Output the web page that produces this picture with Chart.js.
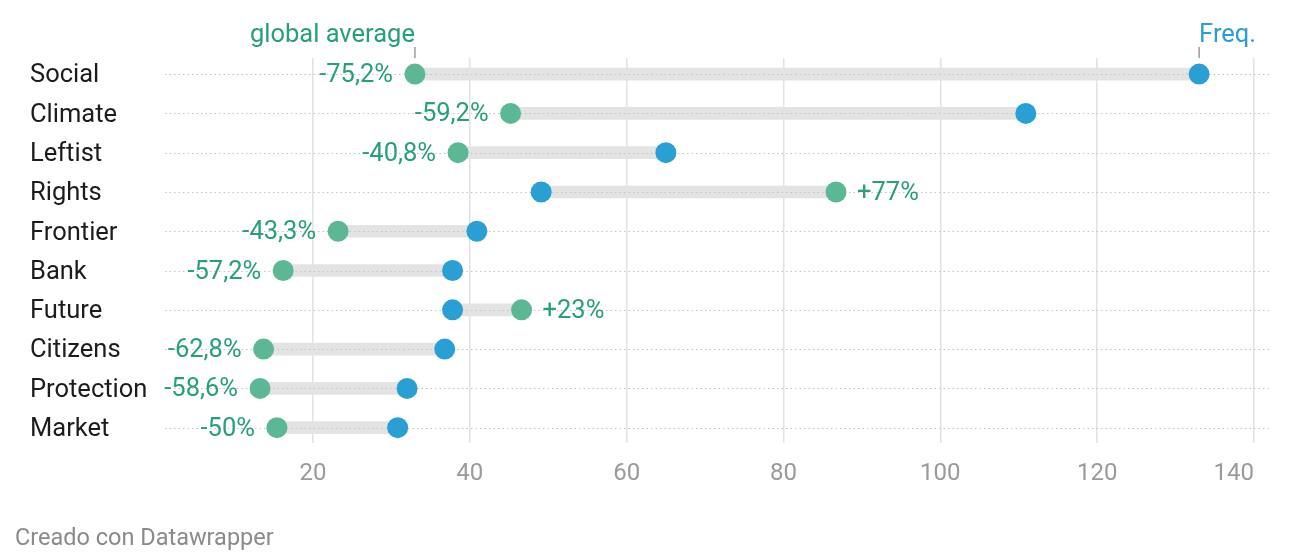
<!DOCTYPE html>
<html>
<head>
<meta charset="utf-8">
<script src="https://cdn.jsdelivr.net/npm/chart.js@4/dist/chart.umd.min.js"></script>
<style>
  html, body { margin: 0; padding: 0; background: #fff; }
  #wrap { position: relative; width: 1297px; height: 558px; }
  #credit { position: absolute; left: 15px; top: 523px; font: 23.5px/28px Roboto, sans-serif; color: #8a8a8a; }
</style>
</head>
<body>
<div id="wrap">
  <canvas id="c" width="1297" height="558"></canvas>
  <div id="credit">Creado con Datawrapper</div>
</div>
<script>
const categories = ['Social','Climate','Leftist','Rights','Frontier','Bank','Future','Citizens','Protection','Market'];
const freq = [133.0, 110.9, 65.0, 49.1, 40.9, 37.8, 37.8, 36.8, 32.0, 30.8];
const globalAvg = [33.0, 45.2, 38.5, 86.7, 23.2, 16.2, 46.6, 13.7, 13.25, 15.4];
const changeLabels = ['-75,2%','-59,2%','-40,8%','+77%','-43,3%','-57,2%','+23%','-62,8%','-58,6%','-50%'];
const xTicks = [20, 40, 60, 80, 100, 120, 140];
const seriesNames = ['global average', 'Freq.'];

const GREEN = '#5cb894';
const GREEN_TEXT = '#27a078';
const BLUE = '#2a9fd3';
const FONT = 'Roboto, sans-serif';

const rangeData = categories.map((c, i) => ({ x: [Math.min(freq[i], globalAvg[i]), Math.max(freq[i], globalAvg[i])], y: i }));
const avgData = categories.map((c, i) => ({ x: globalAvg[i], y: i }));
const freqData = categories.map((c, i) => ({ x: freq[i], y: i }));

const dotLines = {
  id: 'dotLines',
  afterDatasetDraw(chart, args) {
    if (args.index !== 0) return;
    const ctx = chart.ctx, ys = chart.scales.y, a = chart.chartArea;
    ctx.save();
    ctx.strokeStyle = '#c4c4c4';
    ctx.lineWidth = 1.2;
    ctx.setLineDash([1.5, 3]);
    categories.forEach((c, i) => {
      const y = Math.round(ys.getPixelForValue(i)) + 0.5;
      ctx.beginPath(); ctx.moveTo(a.left, y); ctx.lineTo(a.right, y); ctx.stroke();
    });
    ctx.restore();
  }
};

const xLabels = {
  id: 'xLabels',
  afterDraw(chart) {
    const ctx = chart.ctx, xs = chart.scales.x, a = chart.chartArea;
    ctx.save();
    ctx.font = '24px ' + FONT;
    ctx.fillStyle = '#9a9a9a';
    ctx.textBaseline = 'alphabetic';
    xs.ticks.forEach((t, k) => {
      const px = xs.getPixelForValue(t.value);
      ctx.textAlign = (k === xs.ticks.length - 1) ? 'right' : 'center';
      ctx.fillText(String(t.value), px, a.bottom + 37);
    });
    ctx.restore();
  }
};

const labels = {
  id: 'labels',
  afterDatasetsDraw(chart) {
    const ctx = chart.ctx, xs = chart.scales.x, ys = chart.scales.y;
    ctx.save();
    ctx.font = '25.5px ' + FONT;
    ctx.textBaseline = 'alphabetic';
    ctx.fillStyle = GREEN_TEXT;
    categories.forEach((c, i) => {
      const gx = xs.getPixelForValue(globalAvg[i]);
      const y = ys.getPixelForValue(i) + 8;
      if (globalAvg[i] < freq[i]) { ctx.textAlign = 'right'; ctx.fillText(changeLabels[i], gx - 22, y); }
      else { ctx.textAlign = 'left'; ctx.fillText(changeLabels[i], gx + 21, y); }
    });
    // series header labels above first row
    const y0 = ys.getPixelForValue(0);
    const ax = xs.getPixelForValue(globalAvg[0]);
    const fx = xs.getPixelForValue(freq[0]);
    ctx.strokeStyle = '#999';
    ctx.lineWidth = 1.5;
    [ax, fx].forEach(px => { ctx.beginPath(); ctx.moveTo(px, y0 - 27); ctx.lineTo(px, y0 - 16); ctx.stroke(); });
    ctx.textAlign = 'right'; ctx.fillStyle = GREEN_TEXT;
    ctx.fillText(seriesNames[0], ax, y0 - 32);
    ctx.textAlign = 'left'; ctx.fillStyle = BLUE;
    ctx.fillText(seriesNames[1], fx, y0 - 32);
    ctx.restore();
  }
};

new Chart(document.getElementById('c'), {
  type: 'bar',
  data: {
    datasets: [
      { type: 'bar', data: rangeData, backgroundColor: '#e3e3e3', barThickness: 12, borderWidth: 0, order: 3 },
      { type: 'line', label: seriesNames[0], data: avgData, showLine: false, pointRadius: 10.5, pointBackgroundColor: GREEN, pointBorderWidth: 0, pointHoverRadius: 10.5, order: 2 },
      { type: 'line', label: seriesNames[1], data: freqData, showLine: false, pointRadius: 10.5, pointBackgroundColor: BLUE, pointBorderWidth: 0, pointHoverRadius: 10.5, order: 1 }
    ]
  },
  options: {
    indexAxis: 'y',
    responsive: false,
    animation: false,
    devicePixelRatio: 1,
    layout: { padding: { left: 30, top: 58, right: 27, bottom: 75 } },
    plugins: { legend: { display: false }, tooltip: { enabled: false } },
    scales: {
      x: {
        type: 'linear', min: 1.13, max: 142.04, beginAtZero: false,
        afterBuildTicks(s) { s.ticks = xTicks.map(v => ({ value: v })); },
        afterFit(s) { s.height = 40; s.paddingLeft = 0; s.paddingRight = 0; },
        grid: { color: '#e2e2e2', lineWidth: 1.5, drawTicks: false },
        border: { display: false },
        ticks: { display: false }
      },
      y: {
        type: 'linear', reverse: true, min: -0.41, max: 9.39, offset: false,
        afterBuildTicks(s) { s.ticks = categories.map((c, i) => ({ value: i })); },
        afterFit(s) { s.width = 135; s.paddingTop = 0; s.paddingBottom = 0; },
        grid: { display: false, offset: false },
        border: { display: false },
        ticks: { color: '#1c1c1c', crossAlign: 'far', labelOffset: 2, font: { family: FONT, size: 25.5 }, callback: v => categories[v] }
      }
    }
  },
  plugins: [dotLines, labels, xLabels]
});
</script>
</body>
</html>
